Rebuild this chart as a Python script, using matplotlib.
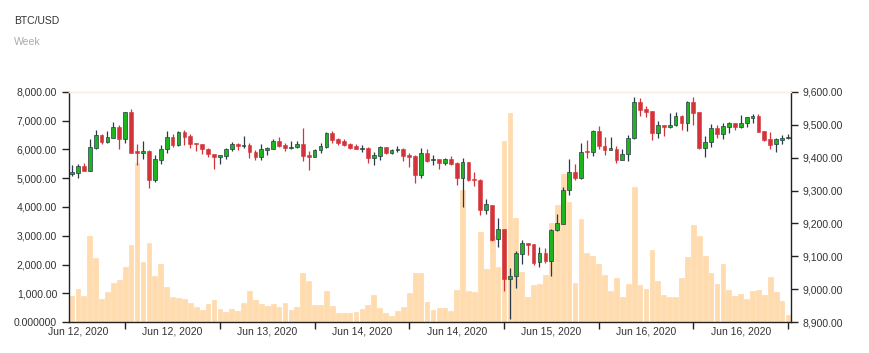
import matplotlib
matplotlib.use("Agg")
import matplotlib.pyplot as plt
import numpy as np

plt.rcParams['font.family'] = ['Liberation Sans', 'DejaVu Sans']

# hourly candles
opens = [9351, 9352, 9375, 9360, 9431, 9470, 9448, 9461, 9494, 9457,
         9538, 9419, 9415, 9421, 9333, 9393, 9428, 9464, 9438, 9479,
         9465, 9446, 9443, 9428, 9412, 9402, 9405, 9425, 9443, 9437,
         9440, 9418, 9403, 9424, 9427, 9452, 9438, 9430, 9433, 9442,
         9407, 9403, 9423, 9433, 9475, 9457, 9450, 9443, 9435, 9428,
         9431, 9398, 9406, 9432, 9413, 9422, 9427, 9407, 9405, 9347,
         9415, 9392, 9396, 9383, 9396, 9384, 9339, 9386, 9335, 9333,
         9240, 9257, 9152, 9184, 9030, 9040, 9106, 9139, 9138, 9083,
         9109, 9085, 9179, 9199, 9301, 9357, 9337, 9421, 9418, 9482,
         9436, 9424, 9428, 9394, 9412, 9461, 9569, 9547, 9542, 9474,
         9499, 9493, 9499, 9527, 9507, 9570, 9538, 9431, 9448, 9491,
         9471, 9494, 9506, 9493, 9506, 9522, 9527, 9481, 9456, 9441,
         9454, 9459]
highs = [9377, 9381, 9385, 9456, 9483, 9472, 9481, 9508, 9501, 9540,
         9548, 9442, 9450, 9423, 9408, 9438, 9481, 9471, 9481, 9483,
         9473, 9446, 9443, 9431, 9412, 9408, 9430, 9448, 9445, 9466,
         9446, 9424, 9443, 9433, 9456, 9464, 9445, 9450, 9452, 9491,
         9420, 9426, 9446, 9477, 9481, 9459, 9456, 9446, 9442, 9440,
         9433, 9416, 9435, 9433, 9425, 9437, 9430, 9415, 9408, 9430,
         9425, 9408, 9396, 9400, 9406, 9386, 9400, 9386, 9357, 9335,
         9273, 9257, 9215, 9184, 9065, 9115, 9149, 9139, 9138, 9128,
         9125, 9182, 9230, 9311, 9396, 9382, 9446, 9454, 9484, 9497,
         9464, 9464, 9436, 9427, 9469, 9584, 9581, 9558, 9542, 9512,
         9501, 9535, 9540, 9529, 9572, 9584, 9540, 9467, 9504, 9501,
         9506, 9509, 9506, 9530, 9525, 9532, 9534, 9482, 9479, 9459,
         9469, 9471]
lows = [9345, 9339, 9359, 9360, 9428, 9443, 9446, 9459, 9428, 9446,
        9413, 9377, 9396, 9308, 9327, 9382, 9413, 9433, 9436, 9440,
        9431, 9420, 9412, 9403, 9365, 9380, 9395, 9420, 9423, 9431,
        9398, 9393, 9393, 9408, 9426, 9433, 9420, 9425, 9430, 9390,
        9363, 9401, 9414, 9431, 9446, 9438, 9436, 9426, 9425, 9418,
        9384, 9379, 9393, 9411, 9411, 9418, 9391, 9373, 9323, 9339,
        9386, 9379, 9367, 9379, 9379, 9316, 9250, 9330, 9313, 9227,
        9228, 9146, 9128, 8994, 8908, 9004, 9078, 9103, 9073, 9068,
        9081, 9039, 9176, 9198, 9286, 9332, 9335, 9400, 9405, 9428,
        9408, 9423, 9384, 9392, 9391, 9456, 9528, 9525, 9454, 9459,
        9467, 9489, 9497, 9484, 9481, 9500, 9428, 9403, 9433, 9459,
        9456, 9476, 9484, 9491, 9492, 9506, 9477, 9451, 9428, 9418,
        9443, 9457]
closes = [9355, 9375, 9359, 9433, 9470, 9448, 9463, 9494, 9457, 9538,
          9415, 9415, 9420, 9333, 9395, 9427, 9464, 9438, 9478, 9463,
          9443, 9441, 9426, 9411, 9401, 9407, 9427, 9443, 9436, 9440,
          9416, 9403, 9425, 9430, 9452, 9436, 9431, 9433, 9442, 9405,
          9402, 9424, 9435, 9475, 9454, 9446, 9439, 9431, 9427, 9431,
          9398, 9409, 9433, 9413, 9423, 9426, 9405, 9402, 9347, 9415,
          9391, 9395, 9384, 9396, 9380, 9339, 9386, 9332, 9331, 9240,
          9258, 9149, 9182, 9030, 9040, 9111, 9139, 9134, 9081, 9109,
          9085, 9180, 9200, 9303, 9357, 9337, 9418, 9417, 9482, 9436,
          9423, 9429, 9394, 9412, 9461, 9569, 9545, 9540, 9474, 9499,
          9493, 9499, 9527, 9507, 9570, 9535, 9430, 9448, 9491, 9471,
          9495, 9505, 9493, 9507, 9523, 9526, 9479, 9453, 9438, 9456,
          9461, 9461]
volumes = [893, 1137, 893, 2976, 2220, 811, 1032, 1358, 1451, 1917,
           2662, 5537, 2092, 2743, 1591, 2033, 1207, 858, 846, 788,
           672, 532, 427, 625, 776, 439, 357, 439, 369, 672,
           1067, 776, 625, 567, 625, 509, 672, 415, 509, 1696,
           1417, 578, 578, 1090, 543, 299, 299, 311, 334, 439,
           578, 928, 474, 299, 206, 381, 509, 998, 1719, 1696,
           683, 404, 474, 474, 381, 1102, 4583, 1090, 1055, 3128,
           1835, 3000, 1905, 6294, 7283, 3616, 1731, 881, 1277, 1312,
           1638, 3442, 4059, 5165, 4164, 1347, 3581, 2383, 2280, 2010,
           1638, 1090, 1521, 860, 1312, 4711, 1277, 1160, 2490, 1420,
           928, 858, 858, 1521, 2255, 3372, 2999, 2301, 1696, 1323,
           2016, 1130, 900, 990, 811, 1090, 1110, 928, 1560, 1032,
           730, 229]

tick_pos = [9, 25, 41, 57, 73, 89, 105, 121]
label_pos = [1, 17, 33, 49, 65, 81, 97, 113]
date_labels = ["Jun 12, 2020", "Jun 12, 2020", "Jun 13, 2020", "Jun 14, 2020",
               "Jun 14, 2020", "Jun 15, 2020", "Jun 16, 2020", "Jun 16, 2020"]

o = np.array(opens)
h = np.array(highs)
l = np.array(lows)
c = np.array(closes)
x = np.arange(len(o))
up = c >= o

GREEN = "#1fb41f"
RED = "#d3343a"
DARK = "#2b3a4a"
PEACH = "#ffdbad"
TXT = "#333333"

fig = plt.figure(figsize=(8.7, 3.53), dpi=100)
ax = fig.add_axes([0.0793, 0.0878, 0.8299, 0.6516])

# volume on the left axis
ax.bar(x, volumes, width=0.8, color=PEACH, edgecolor="#fdd6a4", linewidth=0.4)
ax.set_ylim(0, 8000)
ax.set_yticks(np.arange(0, 8001, 1000))
ax.set_yticklabels(["0.000000" if v == 0 else f"{v:,.2f}" for v in range(0, 8001, 1000)])
ax.set_xlim(-0.5, len(o) - 0.5)

# price candles on the right axis (wicks behind the bodies)
ax2 = ax.twinx()
ax2.set_zorder(ax.get_zorder() + 1)
ax2.patch.set_visible(False)
body_lo = np.minimum(o, c)
body_h = np.maximum(np.abs(c - o), 3)
ax2.vlines(x[up], l[up], h[up], color=DARK, linewidth=0.9, zorder=1)
ax2.vlines(x[~up], l[~up], h[~up], color=RED, linewidth=0.9, zorder=1)
ax2.bar(x[up], body_h[up], bottom=body_lo[up], width=0.64,
        color=GREEN, edgecolor=DARK, linewidth=0.5, zorder=2)
ax2.bar(x[~up], body_h[~up], bottom=body_lo[~up], width=0.64,
        color=RED, edgecolor=RED, linewidth=0.4, zorder=2)
ax2.set_ylim(8900, 9600)
ax2.set_yticks(np.arange(8900, 9601, 100))
ax2.set_yticklabels([f"{v:,.2f}" for v in range(8900, 9601, 100)])

# x axis: tick marks without text, date labels between them
ax.set_xticks(tick_pos)
ax.set_xticklabels([""] * len(tick_pos))
ax.set_xticks(label_pos, minor=True)
ax.set_xticklabels(date_labels, minor=True)
ax.tick_params(axis="x", which="minor", length=0, labelsize=7.5, colors=TXT, pad=3)
ax.tick_params(axis="x", which="major", length=5, width=1, color="#222222")

for a in (ax, ax2):
    a.tick_params(axis="y", labelsize=7.5, labelcolor=TXT, length=5, width=1, color="#222222")
    for s in a.spines.values():
        s.set_linewidth(1)
        s.set_color("#222222")
    a.spines["top"].set_color("#fcefe6")

ax.spines["right"].set_visible(False)
ax2.spines["left"].set_visible(False)
ax2.spines["bottom"].set_visible(False)

fig.text(0.016, 0.9405, "BTC/USD", fontsize=7.5, color=TXT, va="center")
fig.text(0.016, 0.881, "Week", fontsize=7.5, color="#aaaaaa", va="center")

plt.savefig("out.png", dpi=100)
